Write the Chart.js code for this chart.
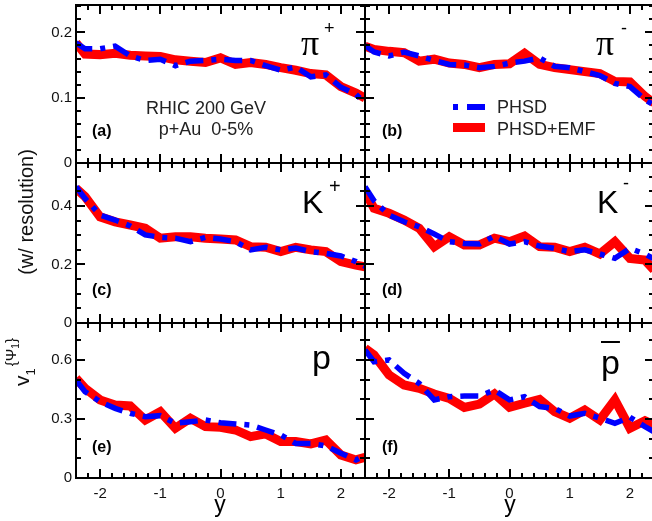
<!DOCTYPE html>
<html lang="en">
<head>
<meta charset="UTF-8" />
<title>v1 vs y, p+Au 200 GeV</title>
<script src="https://cdn.jsdelivr.net/npm/chart.js"></script>
<style>
  body {
    margin: 0;
    background: #fff;
    width: 652px;
    height: 521px;
    overflow: hidden;
    position: relative;
    font-family: 'Liberation Sans', Arial, sans-serif;
  }
  #wrap { position: absolute; left: 0; top: 0; width: 660px; height: 521px; }
  #wrap canvas { position: absolute; left: 0; top: 0; }
  .txt { position: absolute; white-space: pre; color: #000; line-height: 1; z-index: 5; }
  .tag { font-weight: bold; font-size: 16px; }
  .note { font-size: 18px; color: #222; }
  .big { font-size: 32px; }
  .pi { font-family: 'Liberation Serif', 'Times New Roman', serif; font-size: 36px; }
  .sup { font-size: 18px; }
  .sw { position: absolute; z-index: 5; }
  .rot { transform: translate(-50%, -50%) rotate(-90deg); color: #111; }
</style>
</head>
<body>
<div id="wrap"></div>

<!-- panel labels -->
<div class="txt tag" style="left:92px;top:123px">(a)</div>
<div class="txt tag" style="left:382px;top:123px">(b)</div>
<div class="txt tag" style="left:92px;top:282px">(c)</div>
<div class="txt tag" style="left:382px;top:282px">(d)</div>
<div class="txt tag" style="left:92px;top:439px">(e)</div>
<div class="txt tag" style="left:382px;top:439px">(f)</div>

<div class="txt note" style="left:206px;top:99px;transform:translateX(-50%)">RHIC 200 GeV</div>
<div class="txt note" style="left:206px;top:120px;transform:translateX(-50%)">p+Au  0-5%</div>

<!-- legend -->
<div class="sw" style="left:453px;top:104px;width:5px;height:6px;background:#0000ff"></div>
<div class="sw" style="left:467px;top:104px;width:18px;height:6px;background:#0000ff"></div>
<div class="txt note" style="left:497px;top:98px">PHSD</div>
<div class="sw" style="left:453px;top:123px;width:32px;height:9px;background:#ff0000"></div>
<div class="txt note" style="left:497px;top:120px">PHSD+EMF</div>

<!-- particle names -->
<div class="txt pi" style="left:301px;top:25px">π</div>
<div class="txt sup" style="left:324px;top:19px">+</div>
<div class="txt pi" style="left:596px;top:25px">π</div>
<div class="txt sup" style="left:621px;top:19px">-</div>
<div class="txt big" style="left:302px;top:186px">K</div>
<div class="txt sup" style="left:329px;top:176px;font-size:20px">+</div>
<div class="txt big" style="left:597px;top:186px">K</div>
<div class="txt sup" style="left:623px;top:174px">-</div>
<div class="txt big" style="left:312px;top:340px;font-size:34px">p</div>
<div class="txt big" style="left:601px;top:345px;font-size:34px;text-decoration:overline;text-decoration-thickness:2px">p</div>

<!-- axis titles -->
<div class="txt rot" style="left:26px;top:212px;font-size:20px">(w/ resolution)</div>
<div class="txt rot" style="left:21px;top:362px;font-size:21px">v<span style="font-size:13px;position:relative;top:6px">1</span><span style="font-size:15px;position:relative;top:-13px;margin-left:2px">{Ψ<span style="font-size:10px;position:relative;top:3px">1</span>}</span></div>
<div class="txt" style="left:220px;top:493px;font-size:23px;transform:translateX(-50%)">y</div>
<div class="txt" style="left:510px;top:493px;font-size:23px;transform:translateX(-50%)">y</div>

<script>
// rapidity points (edges of the frame at +-2.4)
const Y_POS = [-2.4, -2.25, -2.0, -1.75, -1.5, -1.25, -1.0, -0.75, -0.5, -0.25, 0,
               0.25, 0.5, 0.75, 1.0, 1.25, 1.5, 1.75, 2.0, 2.25, 2.4];

// v1 values, PHSD and PHSD+EMF
const piPlusPHSD  = [0.184,0.175,0.175,0.179,0.164,0.157,0.159,0.149,0.156,0.157,0.159,0.157,0.157,0.149,0.142,0.147,0.132,0.135,0.116,0.105,0.092];
const piPlusEMF   = [0.184,0.167,0.166,0.168,0.165,0.164,0.163,0.158,0.156,0.154,0.161,0.151,0.154,0.151,0.146,0.142,0.137,0.135,0.117,0.107,0.0995];
const piMinusPHSD = [0.180,0.170,0.164,0.170,0.164,0.157,0.151,0.150,0.146,0.148,0.153,0.156,0.161,0.148,0.146,0.140,0.134,0.122,0.117,0.097,0.089];
const piMinusEMF  = [0.179,0.174,0.171,0.169,0.156,0.159,0.153,0.151,0.146,0.151,0.152,0.168,0.151,0.146,0.143,0.140,0.137,0.125,0.124,0.102,0.092];
const kPlusPHSD   = [0.466,0.426,0.369,0.352,0.332,0.301,0.293,0.290,0.278,0.293,0.287,0.278,0.250,0.259,0.250,0.256,0.244,0.238,0.229,0.210,0.194];
const kPlusEMF    = [0.460,0.432,0.363,0.346,0.335,0.324,0.290,0.295,0.295,0.290,0.287,0.284,0.261,0.259,0.244,0.259,0.250,0.244,0.210,0.198,0.192];
const kMinusPHSD  = [0.466,0.418,0.369,0.346,0.329,0.304,0.278,0.272,0.270,0.297,0.270,0.278,0.263,0.255,0.244,0.250,0.236,0.221,0.255,0.236,0.219];
const kMinusEMF   = [0.449,0.392,0.375,0.352,0.324,0.261,0.295,0.267,0.267,0.290,0.278,0.297,0.261,0.259,0.244,0.259,0.236,0.278,0.221,0.215,0.181];
const pPHSD       = [0.498,0.439,0.388,0.354,0.329,0.312,0.317,0.278,0.286,0.295,0.281,0.275,0.269,0.244,0.219,0.176,0.176,0.163,0.126,0.092,0.115];
const pEMF        = [0.507,0.456,0.397,0.371,0.366,0.295,0.337,0.253,0.304,0.261,0.258,0.244,0.210,0.224,0.185,0.185,0.173,0.193,0.117,0.092,0.105];
const pbarPHSD    = [0.651,0.591,0.600,0.532,0.481,0.397,0.413,0.417,0.417,0.447,0.397,0.413,0.363,0.354,0.315,0.329,0.304,0.278,0.309,0.261,0.235];
const pbarEMF     = [0.659,0.625,0.524,0.473,0.456,0.427,0.405,0.359,0.376,0.427,0.359,0.380,0.400,0.337,0.304,0.346,0.295,0.397,0.253,0.291,0.269];

// axes
const X_MIN = -2.4, X_MAX = 2.4;
const X_TICKS = [-2, -1, 0, 1, 2];
const Y_MAX = [0.242, 0.547, 0.788];           // per row
const Y_TICKS = [[0, 0.1, 0.2], [0, 0.2, 0.4], [0, 0.3, 0.6]];
const Y_MINOR = [0.02, 0.05, 0.1];

// layout (pixels)
const CW = 660, CH = 521;
const COL_EDGES = [76, 365, 654];
const ROW_EDGES = [5, 163, 323, 478];
const AXW = 50, AXH = 30;
const FONT = "'Liberation Sans', Arial, sans-serif";

const panels = [
  { row: 0, col: 0, phsd: piPlusPHSD,  emf: piPlusEMF },
  { row: 0, col: 1, phsd: piMinusPHSD, emf: piMinusEMF },
  { row: 1, col: 0, phsd: kPlusPHSD,   emf: kPlusEMF },
  { row: 1, col: 1, phsd: kMinusPHSD,  emf: kMinusEMF },
  { row: 2, col: 0, phsd: pPHSD,       emf: pEMF },
  { row: 2, col: 1, phsd: pbarPHSD,    emf: pbarEMF }
];

// frame + inward major/minor ticks on all four sides
const frameTicks = {
  id: 'frameTicks',
  afterDatasetsDraw(chart, args, opts) {
    const { ctx, chartArea: a, scales: { x, y } } = chart;
    ctx.save();
    ctx.strokeStyle = '#000';
    ctx.lineWidth = 2;
    ctx.beginPath();
    for (let i = -12; i <= 12; i++) {
      const v = i * 0.2;
      const major = i % 5 === 0;
      const len = major ? 9 : 5;
      const px = Math.round(x.getPixelForValue(v));
      ctx.moveTo(px, a.bottom); ctx.lineTo(px, a.bottom - len);
      ctx.moveTo(px, a.top); ctx.lineTo(px, a.top + len);
    }
    const step = opts.minor;
    const n = Math.floor(y.max / step + 1e-6);
    for (let i = 0; i <= n; i++) {
      const v = i * step;
      const major = opts.major.some(m => Math.abs(m - v) < 1e-6);
      const len = major ? 9 : 5;
      const py = Math.round(y.getPixelForValue(v));
      ctx.moveTo(a.left, py); ctx.lineTo(a.left + len, py);
      ctx.moveTo(a.right, py); ctx.lineTo(a.right - len, py);
    }
    ctx.stroke();
    ctx.strokeRect(a.left, a.top, a.right - a.left, a.bottom - a.top);
    ctx.restore();
  }
};

// fixed axis boxes so every plot area lands on its panel
function fixBox(s, w, h) {
  if (w !== null) s.width = w;
  if (h !== null) s.height = h;
  s.paddingTop = 0; s.paddingBottom = 0;
  s.paddingLeft = 0; s.paddingRight = 0;
}

const wrap = document.getElementById('wrap');

function makeChart(p) {
  const canvas = document.createElement('canvas');
  canvas.width = CW;
  canvas.height = CH;
  canvas.style.width = CW + 'px';
  canvas.style.height = CH + 'px';
  wrap.appendChild(canvas);

  const L = COL_EDGES[p.col], R = COL_EDGES[p.col + 1];
  const T = ROW_EDGES[p.row], B = ROW_EDGES[p.row + 1];
  const showY = p.col === 0, showX = p.row === 2;

  new Chart(canvas, {
    type: 'line',
    data: {
      datasets: [
        {
          label: 'PHSD',
          data: Y_POS.map((v, i) => ({ x: v, y: p.phsd[i] })),
          borderColor: '#0000ff',
          borderWidth: 5.5,
          borderDash: [18, 8, 5, 8],
          clip: 0
        },
        {
          label: 'PHSD+EMF',
          data: Y_POS.map((v, i) => ({ x: v, y: p.emf[i] })),
          borderColor: '#ff0000',
          borderWidth: 9,
          clip: 0
        }
      ]
    },
    options: {
      responsive: false,
      animation: false,
      devicePixelRatio: 1,
      layout: { padding: { left: L - AXW, right: CW - R, top: T, bottom: CH - B - AXH } },
      elements: { point: { radius: 0 }, line: { tension: 0 } },
      plugins: {
        legend: { display: false },
        tooltip: { enabled: false },
        frameTicks: { major: Y_TICKS[p.row], minor: Y_MINOR[p.row] }
      },
      scales: {
        x: {
          type: 'linear',
          min: X_MIN, max: X_MAX,
          grid: { display: false, drawTicks: false },
          border: { display: false },
          ticks: {
            display: showX, padding: 7, color: '#111',
            font: { size: 15, family: FONT },
            maxRotation: 0,
            callback: v => String(v)
          },
          afterBuildTicks: s => { s.ticks = X_TICKS.map(v => ({ value: v })); },
          afterFit: s => fixBox(s, null, AXH)
        },
        y: {
          type: 'linear',
          min: 0, max: Y_MAX[p.row],
          grid: { display: false, drawTicks: false },
          border: { display: false },
          ticks: {
            display: showY, padding: 4, color: '#111',
            font: { size: 15, family: FONT },
            callback: v => String(v)
          },
          afterBuildTicks: s => { s.ticks = Y_TICKS[p.row].map(v => ({ value: v })); },
          afterFit: s => fixBox(s, AXW, null)
        }
      }
    },
    plugins: [frameTicks]
  });
}

panels.forEach(makeChart);
</script>
</body>
</html>
